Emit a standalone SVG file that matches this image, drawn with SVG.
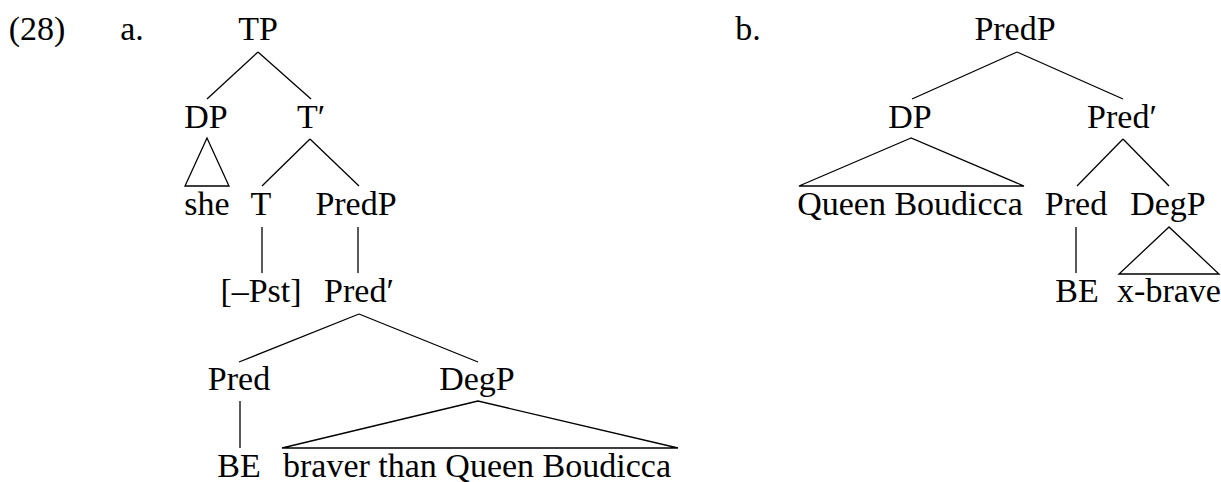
<svg xmlns="http://www.w3.org/2000/svg" width="1221" height="482" viewBox="0 0 1221 482">
<style>
text{font-family:"Liberation Serif","Times New Roman",serif;font-size:34px;fill:#000;text-anchor:middle}
.c line,.c path{stroke:#000;stroke-width:1.3;fill:none;stroke-linejoin:miter}
</style>
<rect width="1221" height="482" fill="#fff"/>
<g id="labels">
<text x="37" y="40">(28)</text>
<text x="132" y="40">a.</text>
<text x="748" y="40">b.</text>
</g>
<g class="c" id="connectors">
<line x1="258" y1="52" x2="207" y2="99"/>
<line x1="258" y1="52" x2="311" y2="99"/>
<path d="M207 138 L185 186 L229 186 Z"/>
<line x1="310" y1="139" x2="262" y2="186"/>
<line x1="310" y1="139" x2="359" y2="186"/>
<line x1="262" y1="227" x2="262" y2="273"/>
<line x1="358" y1="227" x2="358" y2="273"/>
<line x1="359" y1="314" x2="239" y2="362"/>
<line x1="359" y1="314" x2="478" y2="362"/>
<line x1="240" y1="401" x2="240" y2="448"/>
<path d="M478 401 L282 448 L678 448 Z"/>
<line x1="1017" y1="52" x2="912" y2="99"/>
<line x1="1017" y1="52" x2="1123" y2="99"/>
<path d="M911 138 L799 186 L1024 186 Z"/>
<line x1="1123" y1="139" x2="1077" y2="186"/>
<line x1="1123" y1="139" x2="1169" y2="186"/>
<line x1="1076" y1="227" x2="1076" y2="273"/>
<path d="M1169 227 L1119 274 L1219 274 Z"/>
</g>
<g id="a-TP"><text x="258" y="40">TP</text></g>
<g id="a-DP"><text x="206" y="128">DP</text></g>
<g id="a-Tbar"><text x="311" y="128">T′</text></g>
<g id="a-she"><text x="207" y="215">she</text></g>
<g id="a-T"><text x="261" y="215">T</text></g>
<g id="a-PredP"><text x="356" y="215">PredP</text></g>
<g id="a-Pst"><text x="261" y="302">[–Pst]</text></g>
<g id="a-Predbar"><text x="359" y="302">Pred′</text></g>
<g id="a-Pred"><text x="239" y="390">Pred</text></g>
<g id="a-DegP"><text x="477" y="390">DegP</text></g>
<g id="a-BE"><text x="239" y="477">BE</text></g>
<g id="a-braver"><text x="477" y="477">braver than Queen Boudicca</text></g>
<g id="b-PredP"><text x="1015" y="40">PredP</text></g>
<g id="b-DP"><text x="910" y="128">DP</text></g>
<g id="b-Predbar"><text x="1122" y="128">Pred′</text></g>
<g id="b-QB"><text x="910" y="215">Queen Boudicca</text></g>
<g id="b-Pred"><text x="1076" y="215">Pred</text></g>
<g id="b-DegP"><text x="1168" y="215">DegP</text></g>
<g id="b-BE"><text x="1077" y="302">BE</text></g>
<g id="b-xbrave"><text x="1169" y="302">x-brave</text></g>
</svg>
